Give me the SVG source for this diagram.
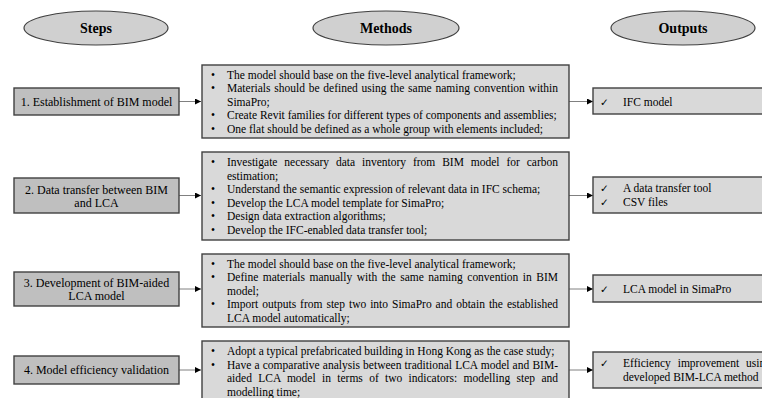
<svg xmlns="http://www.w3.org/2000/svg" width="762" height="398" viewBox="0 0 762 398">
<style>
.bg{fill:#ffffff}
.ell{fill:#d0d0d0;stroke:#404040;stroke-width:1.2}
.hd{font-family:"Liberation Serif","Times New Roman",serif;font-size:14px;font-weight:bold;fill:#000;text-anchor:middle}
.step{fill:#bfbfbf;stroke:#404040;stroke-width:1.4}
.meth{fill:#d9d9d9;stroke:#404040;stroke-width:1.4}
.out{fill:#d9d9d9;stroke:#404040;stroke-width:1.4}
.st{font-family:"Liberation Serif","Times New Roman",serif;font-size:12px;fill:#000;text-anchor:middle}
.t{font-family:"Liberation Serif","Times New Roman",serif;font-size:11.5px;fill:#000}
.ck{font-family:"DejaVu Sans",sans-serif;font-size:10.5px;fill:#000}
.conn{stroke:#808080;stroke-width:1;fill:none}
</style>
<defs>
<marker id="ah" markerWidth="6" markerHeight="6" refX="6" refY="3" orient="auto" markerUnits="userSpaceOnUse">
<path d="M0,0 L6,3 L0,6 z" fill="#000"/>
</marker>
</defs>
<rect class="bg" x="0" y="0" width="762" height="398"/>

<g id="hdr-steps"><ellipse class="ell" cx="96" cy="28" rx="72" ry="17"/><text class="hd" x="96" y="33">Steps</text></g>
<g id="hdr-methods"><ellipse class="ell" cx="386" cy="28" rx="73" ry="17"/><text class="hd" x="386" y="33">Methods</text></g>
<g id="hdr-outputs"><ellipse class="ell" cx="683" cy="28" rx="72" ry="17"/><text class="hd" x="683" y="33">Outputs</text></g>

<g id="connectors">
<line class="conn" x1="179" y1="101.5" x2="201" y2="101.5" marker-end="url(#ah)"/>
<line class="conn" x1="569" y1="101.5" x2="593" y2="101.5" marker-end="url(#ah)"/>
<line class="conn" x1="179" y1="195.5" x2="201" y2="195.5" marker-end="url(#ah)"/>
<line class="conn" x1="569" y1="195.5" x2="593" y2="195.5" marker-end="url(#ah)"/>
<line class="conn" x1="179" y1="289" x2="201" y2="289" marker-end="url(#ah)"/>
<line class="conn" x1="569" y1="289" x2="593" y2="289" marker-end="url(#ah)"/>
<line class="conn" x1="179" y1="370" x2="201" y2="370" marker-end="url(#ah)"/>
<line class="conn" x1="569" y1="370" x2="593" y2="370" marker-end="url(#ah)"/>
</g>

<g id="step1"><rect class="step" x="14" y="88" width="165" height="27"/><text class="st" x="96.5" y="105.5">1. Establishment of BIM model</text></g>
<g id="step2"><rect class="step" x="14" y="178" width="165" height="35"/><text class="st" x="96.5" y="193.5">2. Data transfer between BIM</text><text class="st" x="96.5" y="207">and LCA</text></g>
<g id="step3"><rect class="step" x="14" y="272" width="165" height="34"/><text class="st" x="96.5" y="286.5">3. Development of BIM-aided</text><text class="st" x="96.5" y="300">LCA model</text></g>
<g id="step4"><rect class="step" x="14" y="356" width="165" height="28"/><text class="st" x="96.5" y="374">4. Model efficiency validation</text></g>

<g id="methods1">
<rect class="meth" x="202" y="65" width="367" height="73"/>
<text class="t" x="211" y="78.5">•</text><text class="t" x="227" y="78.5">The model should base on the five-level analytical framework;</text>
<text class="t" x="211" y="92">•</text><text class="t" x="227" y="92" word-spacing="0.9" textLength="331" lengthAdjust="spacing">Materials should be defined using the same naming convention within</text>
<text class="t" x="227" y="105.5">SimaPro;</text>
<text class="t" x="211" y="119">•</text><text class="t" x="227" y="119">Create Revit families for different types of components and assemblies;</text>
<text class="t" x="211" y="132.5">•</text><text class="t" x="227" y="132.5">One flat should be defined as a whole group with elements included;</text>
</g>

<g id="methods2">
<rect class="meth" x="202" y="152" width="367" height="88"/>
<text class="t" x="211" y="166.25">•</text><text class="t" x="227" y="166.25" word-spacing="4" textLength="331" lengthAdjust="spacing">Investigate necessary data inventory from BIM model for carbon</text>
<text class="t" x="227" y="179.75">estimation;</text>
<text class="t" x="211" y="193.25">•</text><text class="t" x="227" y="193.25">Understand the semantic expression of relevant data in IFC schema;</text>
<text class="t" x="211" y="206.75">•</text><text class="t" x="227" y="206.75">Develop the LCA model template for SimaPro;</text>
<text class="t" x="211" y="220.25">•</text><text class="t" x="227" y="220.25">Design data extraction algorithms;</text>
<text class="t" x="211" y="233.75">•</text><text class="t" x="227" y="233.75">Develop the IFC-enabled data transfer tool;</text>
</g>

<g id="methods3">
<rect class="meth" x="202" y="254" width="367" height="73"/>
<text class="t" x="211" y="267.5">•</text><text class="t" x="227" y="267.5">The model should base on the five-level analytical framework;</text>
<text class="t" x="211" y="281">•</text><text class="t" x="227" y="281" word-spacing="1.6" textLength="331" lengthAdjust="spacing">Define materials manually with the same naming convention in BIM</text>
<text class="t" x="227" y="294.5">model;</text>
<text class="t" x="211" y="308">•</text><text class="t" x="227" y="308" word-spacing="1.1" textLength="331" lengthAdjust="spacing">Import outputs from step two into SimaPro and obtain the established</text>
<text class="t" x="227" y="321.5">LCA model automatically;</text>
</g>

<g id="methods4">
<rect class="meth" x="202" y="341" width="367" height="70"/>
<text class="t" x="211" y="355">•</text><text class="t" x="227" y="355">Adopt a typical prefabricated building in Hong Kong as the case study;</text>
<text class="t" x="211" y="368.5">•</text><text class="t" x="227" y="368.5" word-spacing="0.27" textLength="331" lengthAdjust="spacing">Have a comparative analysis between traditional LCA model and BIM-</text>
<text class="t" x="227" y="382" word-spacing="3.4" textLength="331" lengthAdjust="spacing">aided LCA model in terms of two indicators: modelling step and</text>
<text class="t" x="227" y="395.5">modelling time;</text>
</g>

<g id="output1"><rect class="out" x="593" y="88" width="180" height="26"/><text class="ck" x="600" y="105.5">✓</text><text class="t" x="623" y="105.5">IFC model</text></g>
<g id="output2"><rect class="out" x="593" y="177" width="180" height="36"/><text class="ck" x="600" y="192">✓</text><text class="t" x="623" y="192">A data transfer tool</text><text class="ck" x="600" y="205.5">✓</text><text class="t" x="623" y="205.5">CSV files</text></g>
<g id="output3"><rect class="out" x="593" y="275" width="180" height="27"/><text class="ck" x="600" y="292.5">✓</text><text class="t" x="623" y="292.5">LCA model in SimaPro</text></g>
<g id="output4"><rect class="out" x="593" y="352" width="180" height="36"/><text class="ck" x="600" y="367">✓</text><text class="t" x="623" y="367" word-spacing="4" textLength="148" lengthAdjust="spacing">Efficiency improvement using</text><text class="t" x="623" y="380.5">developed BIM-LCA method</text></g>
</svg>
